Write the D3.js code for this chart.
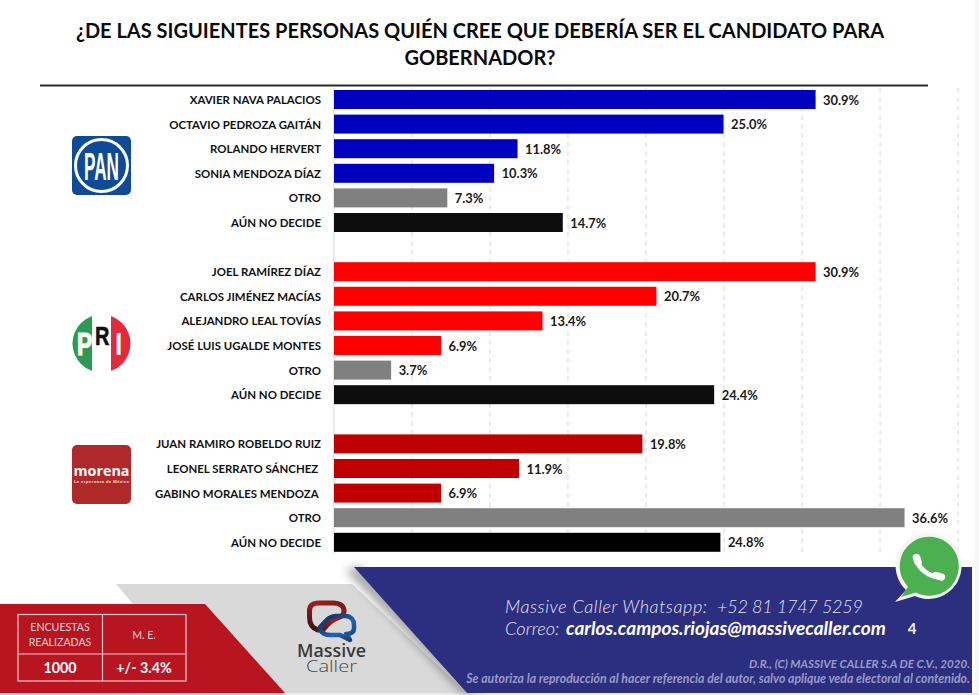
<!DOCTYPE html>
<html><head><meta charset="utf-8">
<script src="https://cdn.jsdelivr.net/npm/d3@7/dist/d3.min.js"></script>
<style>html,body{margin:0;padding:0;background:#fff;overflow:hidden}svg{display:block}</style>
</head><body><svg id="c" width="979" height="695"></svg>
<script>
const titleLines = ["¿DE LAS SIGUIENTES PERSONAS QUIÉN CREE QUE DEBERÍA SER EL CANDIDATO PARA", "GOBERNADOR?"];
const panNames = ["XAVIER NAVA PALACIOS","OCTAVIO PEDROZA GAITÁN","ROLANDO HERVERT","SONIA MENDOZA DÍAZ","OTRO","AÚN NO DECIDE"];
const panValues = [30.9,25.0,11.8,10.3,7.3,14.7];
const priNames = ["JOEL RAMÍREZ DÍAZ","CARLOS JIMÉNEZ MACÍAS","ALEJANDRO LEAL TOVÍAS","JOSÉ LUIS UGALDE MONTES","OTRO","AÚN NO DECIDE"];
const priValues = [30.9,20.7,13.4,6.9,3.7,24.4];
const morenaNames = ["JUAN RAMIRO ROBELDO RUIZ","LEONEL SERRATO SÁNCHEZ ","GABINO MORALES MENDOZA ","OTRO","AÚN NO DECIDE"];
const morenaValues = [19.8,11.9,6.9,36.6,24.8];
const gridTicks = [0,5,10,15,20,25,30,35,40];

const partyColor = {pan:"#0000bf", pri:"#ff0000", morena:"#c00000"};
const FONT = "Lato, 'Open Sans', sans-serif";
const svg = d3.select("#c");
const defs = svg.append("defs");

const rows = [];
function addGroup(party, names, values){
  names.forEach((n,i)=>rows.push({party, name:n, value:values[i], row:rows.length}));
}
addGroup("pan",panNames,panValues); rows.push(null);
addGroup("pri",priNames,priValues); rows.push(null);
addGroup("morena",morenaNames,morenaValues);
const data = rows.filter(Boolean);
function barColor(d){
  if(d.name==="OTRO") return "#808080";
  if(d.name==="AÚN NO DECIDE") return d.party==="morena"?"#000000":"#0d0d0d";
  return partyColor[d.party];
}

const x = d3.scaleLinear().domain([0,40]).range([333.4,957.6]);
const y = d3.scaleBand().domain(d3.range(rows.length)).range([87.2,554.6]).paddingInner(0.228).paddingOuter(0.114);

// title
svg.append("g").selectAll("text").data(titleLines).join("text")
  .attr("x",480).attr("y",(d,i)=>38+i*27).attr("text-anchor","middle")
  .attr("font-family",FONT).attr("font-weight",700).attr("font-size",20).attr("fill","#0b0b0b").text(d=>d);
svg.append("line").attr("x1",40).attr("x2",928).attr("y1",85.5).attr("y2",85.5).attr("stroke","#2a2a2a").attr("stroke-width",2.2);

// grid
const gridG = svg.append("g").attr("transform","translate(0,88)")
  .call(d3.axisBottom(x).tickValues(gridTicks).tickSize(466).tickFormat(""));
gridG.select(".domain").remove();
gridG.selectAll(".tick line").attr("stroke","#d9d9d9").attr("stroke-width",1)
  .attr("stroke-dasharray",(d)=>d===0?null:"5,4");

// bars
svg.append("g").selectAll("rect").data(data).join("rect")
  .attr("x",x(0)+0.6).attr("y",d=>y(d.row)).attr("height",y.bandwidth())
  .attr("width",d=>x(d.value)-x(0)-0.6).attr("fill",barColor);

// value labels
svg.append("g").selectAll("text").data(data).join("text")
  .attr("x",d=>x(d.value)+7.5).attr("y",d=>y(d.row)+y.bandwidth()/2+5)
  .attr("font-family",FONT).attr("font-weight",700).attr("font-size",12.9).attr("fill","#1a1a1a")
  .text(d=>d.value.toFixed(1)+"%");

// category labels
svg.append("g").selectAll("text").data(data).join("text")
  .attr("x",321).attr("y",d=>y(d.row)+y.bandwidth()/2+4.5).attr("text-anchor","end")
  .style("white-space","pre")
  .attr("font-family",FONT).attr("font-weight",700).attr("font-size",11.45).attr("fill","#111")
  .text(d=>d.name);

// PAN logo
const pan = svg.append("g");
pan.append("rect").attr("x",72).attr("y",136).attr("width",59).attr("height",59).attr("rx",5).attr("fill","#0f4a97");
pan.append("circle").attr("cx",101.5).attr("cy",165.5).attr("r",26).attr("fill","none").attr("stroke","#fff").attr("stroke-width",3);
pan.append("text").attr("x",101.5).attr("y",180).attr("text-anchor","middle").attr("textLength",35).attr("lengthAdjust","spacingAndGlyphs")
  .attr("font-family","'Liberation Sans Narrow','Liberation Sans',sans-serif").attr("font-weight",700).attr("font-size",38).attr("fill","#fff").text("PAN");

// PRI logo
defs.append("clipPath").attr("id","priClip").append("circle").attr("cx",101.5).attr("cy",343.5).attr("r",29);
const pri = svg.append("g").attr("clip-path","url(#priClip)");
pri.append("rect").attr("x",72).attr("y",314).attr("width",20).attr("height",60).attr("fill","#2c9a55");
pri.append("rect").attr("x",111).attr("y",314).attr("width",21).attr("height",60).attr("fill","#e5283a");
const priT = svg.append("g").attr("font-family","'Liberation Sans',sans-serif").attr("font-weight",700);
priT.append("text").attr("transform","translate(77,355) scale(0.95,1.3)").attr("font-size",24).attr("fill","#fff").attr("stroke","#fff").attr("stroke-width",.9).text("P");
priT.append("text").attr("transform","translate(95,345) scale(0.95,1.25)").attr("font-size",21).attr("fill","#111").attr("stroke","#111").attr("stroke-width",.5).text("R");
priT.append("text").attr("transform","translate(115,355) scale(1.1,1.3)").attr("font-size",24).attr("fill","#fff").text("I");

// morena logo
const mor = svg.append("g");
mor.append("rect").attr("x",72).attr("y",445).attr("width",59).attr("height",59).attr("rx",5).attr("fill","#b0292a");
mor.append("text").attr("x",101.5).attr("y",476).attr("text-anchor","middle").attr("font-family","'Open Sans',sans-serif").attr("font-weight",700).attr("font-size",14).attr("textLength",56).attr("lengthAdjust","spacingAndGlyphs").attr("fill","#fff").text("morena");
mor.append("text").attr("x",101.5).attr("y",482.5).attr("text-anchor","middle").attr("font-family","'Open Sans',sans-serif").attr("font-weight",700).attr("font-size",4).attr("textLength",55).attr("fill","#f3d6d6").text("La esperanza de México");

// footer shapes
const sh = defs.append("filter").attr("id","sh").attr("x","-10%").attr("y","-10%").attr("width","120%").attr("height","120%");
sh.append("feGaussianBlur").attr("stdDeviation",5);
const line = d3.line();
svg.append("rect").attr("x",975).attr("y",0).attr("width",4).attr("height",695).attr("fill","#f6f6f6");
svg.append("rect").attr("x",0).attr("y",693).attr("width",979).attr("height",2).attr("fill","#ececec");
svg.append("path").attr("d",line([[116,584],[352,584],[467,693],[283,693],[200,604],[133,604]])+"Z").attr("fill","#d9d9d9");
svg.append("path").attr("d",line([[346,570],[360,567],[478,693],[462,693]])+"Z").attr("fill","#555").attr("opacity",.55).attr("filter","url(#sh)");
svg.append("path").attr("d",line([[0,604],[205,604],[285,693],[0,693]])+"Z").attr("fill","#b91521");
svg.append("path").attr("d",line([[354,567],[972,567],[972,693],[467,693]])+"Z").attr("fill","#2c2e80");
svg.append("rect").attr("x",0).attr("y",693).attr("width",285).attr("height",2).attr("fill","#efc4c8");

// table
const t = svg.append("g").attr("font-family",FONT).attr("text-anchor","middle");
t.append("rect").attr("x",18).attr("y",614.5).attr("width",168).attr("height",66.5).attr("fill","none").attr("stroke","#eec9cc").attr("stroke-width",1.2);
t.append("line").attr("x1",102.5).attr("x2",102.5).attr("y1",614.5).attr("y2",681).attr("stroke","#eec9cc").attr("stroke-width",1.2);
t.append("line").attr("x1",18).attr("x2",186).attr("y1",654).attr("y2",654).attr("stroke","#eec9cc").attr("stroke-width",1.2);
const tLight = [["ENCUESTAS",60,631],["REALIZADAS",60,646],["M. E.",144,639]];
t.selectAll("text.l").data(tLight).join("text").attr("class","l").attr("x",d=>d[1]).attr("y",d=>d[2]).attr("font-size",10.6).attr("fill","#f0d4d6").text(d=>d[0]);
const tBold = [["1000",60,673],["+/- 3.4%",144,673]];
t.selectAll("text.b").data(tBold).join("text").attr("class","b").attr("x",d=>d[1]).attr("y",d=>d[2]).attr("font-size",14.3).attr("font-weight",700).attr("fill","#fff").text(d=>d[0]);

// Massive Caller logo
const grad1 = defs.append("linearGradient").attr("id","gr").attr("x1","0").attr("x2","1").attr("y1","1").attr("y2","0");
grad1.append("stop").attr("offset","0").attr("stop-color","#2e1212"); grad1.append("stop").attr("offset",".55").attr("stop-color","#a51e20"); grad1.append("stop").attr("offset","1").attr("stop-color","#7a1a1c");
const grad2 = defs.append("linearGradient").attr("id","gb").attr("x1","0").attr("x2","1").attr("y1","0").attr("y2","1");
grad2.append("stop").attr("offset","0").attr("stop-color","#14264f"); grad2.append("stop").attr("offset",".6").attr("stop-color","#1e63b4"); grad2.append("stop").attr("offset","1").attr("stop-color","#173a70");
const m = svg.append("g").attr("fill","none").attr("stroke-linecap","round").attr("stroke-linejoin","round");
m.append("path").attr("d","M318 630 C311 628 309.500 622 309.500 617 V611 C309.500 605 313 603 319 603 H333 C340 603 344 606 344 611 C344 614 343 616 340 617 C332 619 328 624 322 631").attr("stroke","url(#gr)").attr("stroke-width",5);
m.append("path").attr("d","M320 627 C326 621 329 616 336 616 H345 C351 616 354 620 354 625 V628 C354 632 351 634 346 634 L350 640 L340 635 H330 C325 635 322 633 320 630").attr("stroke","url(#gb)").attr("stroke-width",4.5);
const mt = svg.append("g").attr("text-anchor","middle").attr("font-family","'Open Sans',sans-serif");
mt.append("text").attr("x",331.5).attr("y",657).attr("font-size",15).attr("font-weight",600).attr("fill","#3a3a3a").attr("transform","translate(331.5,657) scale(1,1.15) translate(-331.5,-657)").attr("textLength",69).attr("lengthAdjust","spacingAndGlyphs").text("Massive");
mt.append("text").attr("x",331.5).attr("y",672).attr("font-size",13).attr("font-weight",300).attr("fill","#4a4a4a").attr("transform","translate(331.5,672) scale(1,1.2) translate(-331.5,-672)").attr("textLength",51).attr("lengthAdjust","spacingAndGlyphs").text("Caller");

// contact text
const c = svg.append("g").attr("font-family",FONT).attr("font-style","italic");
c.append("text").attr("x",505).attr("y",613).attr("font-size",18).attr("font-weight",300).attr("fill","#e4e4f2").attr("textLength",202).text("Massive Caller Whatsapp:");
c.append("text").attr("x",717).attr("y",613).attr("font-size",18).attr("font-weight",300).attr("fill","#e4e4f2").attr("textLength",146).text("+52 81 1747 5259");
c.append("text").attr("x",505).attr("y",635).attr("font-size",18.3).attr("font-weight",300).attr("fill","#e4e4f2").text("Correo:");
c.append("text").attr("x",566).attr("y",635).attr("font-size",19).attr("font-weight",700).attr("fill","#fff").text("carlos.campos.riojas@massivecaller.com");
svg.append("text").attr("x",912).attr("y",634).attr("text-anchor","middle").attr("font-family",FONT).attr("font-weight",700).attr("font-size",15).attr("fill","#f2f2f2").text("4");
const copy = [["D.R., (C) MASSIVE CALLER S.A DE C.V., 2020.",668],["Se autoriza la reproducción al hacer referencia del autor, salvo aplique veda electoral al contenido.",683]];
c.selectAll("text.cp").data(copy).join("text").attr("class","cp").attr("x",970).attr("y",d=>d[1]).attr("text-anchor","end").attr("font-size",(d,i)=>i===0?11.6:12.3).attr("font-weight",700).attr("fill","#9a9bc6").text(d=>d[0]);

// WhatsApp icon
const w = svg.append("g");
w.append("path").attr("d","M906 590 L895 602 L915 596 A33 33 0 1 0 906 590 Z").attr("fill","#f4f4f4");
w.append("path").attr("d","M908 586.700 L901 597 L916 592.600 A29.500 29.500 0 1 0 908 586.700 Z").attr("fill","#4caf50");
const ph = w.append("g").attr("fill","none").attr("stroke","#fff").attr("stroke-linecap","round");
ph.append("path").attr("d","M917 559 C918 568 928 577 941 577").attr("stroke-width",5);
ph.append("line").attr("x1",916.5).attr("y1",557.5).attr("x2",918).attr("y2",562).attr("stroke-width",7.5);
ph.append("line").attr("x1",936).attr("y1",575.5).attr("x2",941.5).attr("y2",577).attr("stroke-width",7.5);
</script></body></html>
